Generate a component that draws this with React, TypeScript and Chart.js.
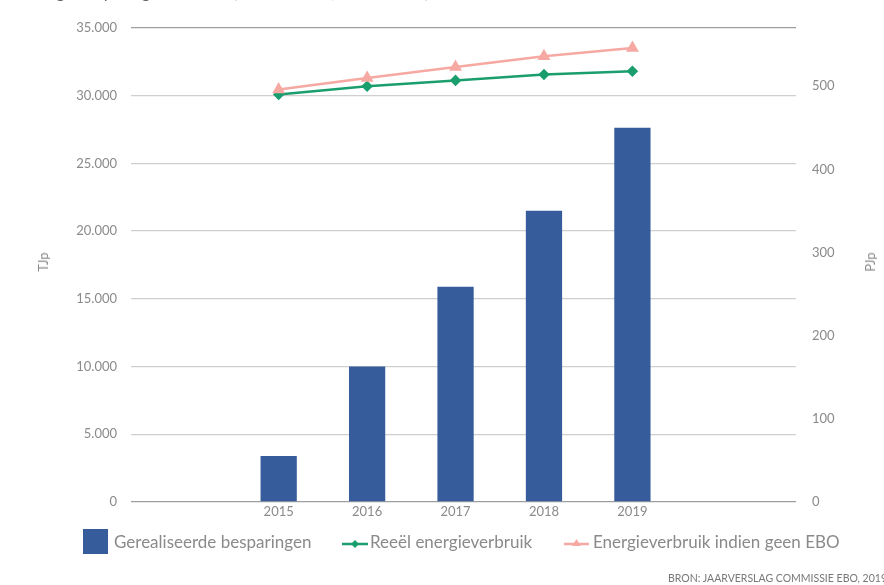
import React, { useEffect, useRef } from "react";
import { Chart, registerables } from "chart.js";

Chart.register(...registerables);

const years = [2015, 2016, 2017, 2018, 2019];
const savingsTJ = [3400, 10000, 15900, 21500, 27630];
const actualPJ = [490, 500, 507, 514, 518];
const noEboPJ = [496, 510, 523, 536, 546];
const leftTicks = [0, 5000, 10000, 15000, 20000, 25000, 30000, 35000];
const rightTicks = [0, 100, 200, 300, 400, 500];
const legendLabels = ["Gerealiseerde besparingen", "Reeël energieverbruik", "Energieverbruik indien geen EBO"];
const leftTitle = "TJp";
const rightTitle = "PJp";
const sourceText = "BRON: JAARVERSLAG COMMISSIE EBO, 2019";
const titleText = "Energiebesparing door EBO (in TJ en in PJ, 2015-2019)";

const BLUE = "#365C9B";
const GREEN = "#1A9E6E";
const PINK = "#F6A9A3";
const TEXT = "#8a8a8a";
const FONT = "Lato, 'Open Sans', sans-serif";

const fmt = (v: number) => String(v).replace(/\B(?=(\d{3})+(?!\d))/g, ".");

export default function App() {
  const ref = useRef<HTMLCanvasElement | null>(null);
  useEffect(() => {
    if (!ref.current) return;
    const chart = new Chart(ref.current, {
      type: "bar",
      data: {
        datasets: [
          {
            type: "line",
            label: legendLabels[2],
            data: years.map((y, i) => ({ x: y, y: noEboPJ[i] })),
            yAxisID: "yR",
            borderColor: PINK,
            backgroundColor: PINK,
            borderWidth: 2.5,
            pointStyle: "triangle",
            pointRadius: 5,
            pointHoverRadius: 5,
            tension: 0,
          } as any,
          {
            type: "line",
            label: legendLabels[1],
            data: years.map((y, i) => ({ x: y, y: actualPJ[i] })),
            yAxisID: "yR",
            borderColor: GREEN,
            backgroundColor: GREEN,
            borderWidth: 2.5,
            pointStyle: "rectRot",
            pointRadius: 4,
            pointHoverRadius: 4,
            tension: 0,
          } as any,
          {
            type: "bar",
            label: legendLabels[0],
            data: years.map((y, i) => ({ x: y, y: savingsTJ[i] })),
            yAxisID: "yL",
            backgroundColor: BLUE,
            categoryPercentage: 1,
            barPercentage: 0.41,
          } as any,
        ],
      },
      options: {
        responsive: false,
        animation: false,
        layout: { padding: { left: 0, right: 0, top: 28, bottom: 0 } },
        plugins: { legend: { display: false }, tooltip: { enabled: false }, title: { display: false } },
        scales: {
          x: {
            type: "linear",
            offset: false,
            min: 2013.33,
            max: 2020.85,
            afterFit: (s: any) => { s.height = 83; },
            afterBuildTicks: (s: any) => { s.ticks = years.map((v) => ({ value: v })); },
            grid: { display: false, drawTicks: false, offset: false },
            border: { display: false },
            ticks: {
              color: TEXT,
              font: { family: FONT, size: 13 },
              padding: 2,
              autoSkip: false,
              maxRotation: 0,
              callback: (v: any) => String(v),
            },
          },
          yL: {
            type: "linear",
            position: "left",
            min: 0,
            max: 35000,
            afterFit: (s: any) => { s.width = 131; },
            afterBuildTicks: (s: any) => { s.ticks = leftTicks.map((v) => ({ value: v })); },
            grid: {
              drawTicks: false,
              lineWidth: 1.3,
              color: (c: any) => (c.tick && (c.tick.value === 0 || c.tick.value === 35000) ? "#9e9e9e" : "#cfcfcf"),
            },
            border: { display: false },
            ticks: {
              color: TEXT,
              font: { family: FONT, size: 13 },
              padding: 14,
              callback: (v: any) => fmt(Number(v)),
            },
          },
          yR: {
            type: "linear",
            position: "right",
            min: 0,
            max: 570,
            afterFit: (s: any) => { s.width = 88; },
            afterBuildTicks: (s: any) => { s.ticks = rightTicks.map((v) => ({ value: v })); },
            grid: { display: false, drawTicks: false },
            border: { display: false },
            ticks: {
              color: TEXT,
              font: { family: FONT, size: 13 },
              padding: 16,
              callback: (v: any) => String(v),
            },
          },
        },
      } as any,
    });
    return () => chart.destroy();
  }, []);

  const legendText: React.CSSProperties = {
    position: "absolute",
    top: 532,
    fontFamily: FONT,
    fontSize: 17,
    color: TEXT,
    lineHeight: "20px",
    whiteSpace: "nowrap",
  };

  return (
    <div style={{ position: "fixed", left: 0, top: 0, width: 884, height: 585, overflow: "hidden", background: "#fff" }}>
      <canvas ref={ref} width={884} height={585} style={{ display: "block", position: "absolute", left: 0, top: 0 }} />
      <div style={{ position: "absolute", left: 22, top: -18, fontFamily: FONT, fontSize: 17, lineHeight: "20px", color: "#666", whiteSpace: "nowrap" }}>{titleText}</div>
      <div style={{ position: "absolute", left: 43, top: 262, transform: "translate(-50%,-50%) rotate(-90deg)", fontFamily: FONT, fontSize: 13, color: TEXT, whiteSpace: "nowrap" }}>{leftTitle}</div>
      <div style={{ position: "absolute", left: 870, top: 262, transform: "translate(-50%,-50%) rotate(-90deg)", fontFamily: FONT, fontSize: 13, color: TEXT, whiteSpace: "nowrap" }}>{rightTitle}</div>
      <div style={{ position: "absolute", left: 83, top: 529, width: 25, height: 25, background: BLUE }} />
      <div style={{ ...legendText, left: 114 }}>{legendLabels[0]}</div>
      <svg style={{ position: "absolute", left: 340, top: 537 }} width={30} height={14}>
        <line x1={2} y1={7} x2={28} y2={7} stroke={GREEN} strokeWidth={2.5} />
        <polygon points="15,3 19,7 15,11 11,7" fill={GREEN} />
      </svg>
      <div style={{ ...legendText, left: 370 }}>{legendLabels[1]}</div>
      <svg style={{ position: "absolute", left: 563, top: 537 }} width={28} height={14}>
        <line x1={1} y1={7} x2={26} y2={7} stroke={PINK} strokeWidth={2.5} />
        <polygon points="13.5,2 18,9 9,9" fill={PINK} />
      </svg>
      <div style={{ ...legendText, left: 593 }}>{legendLabels[2]}</div>
      <div style={{ position: "absolute", left: 668, top: 571, fontFamily: FONT, fontSize: 10.5, color: "#777", whiteSpace: "nowrap", lineHeight: "14px" }}>{sourceText}</div>
    </div>
  );
}
